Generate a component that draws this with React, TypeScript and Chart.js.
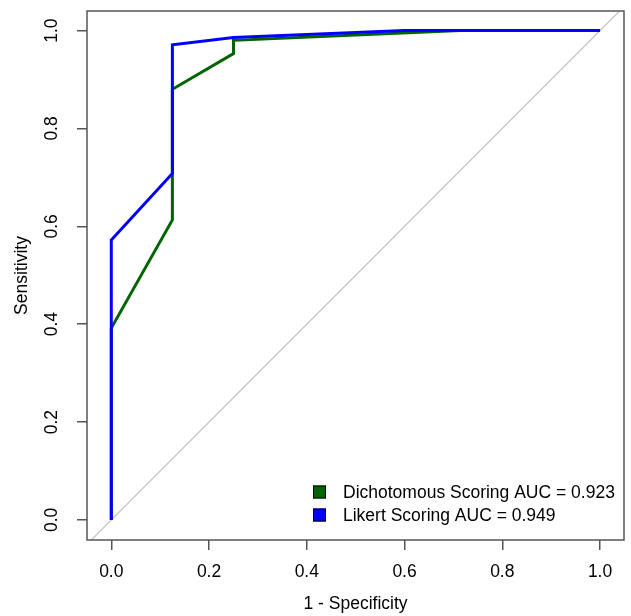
import React, { useEffect, useRef } from 'react';
import { Chart, registerables } from 'chart.js';

Chart.register(...registerables);

// ROC curve points: x = 1 - Specificity, y = Sensitivity
const dichFpr = [0, 0, 0.125, 0.125, 0.25, 0.25, 0.714, 1.0];
const dichTpr = [0, 0.392, 0.613, 0.88, 0.953, 0.98, 1.0, 1.0];
const likertFpr = [0, 0, 0.125, 0.125, 0.25, 0.6, 1.0];
const likertTpr = [0, 0.572, 0.708, 0.971, 0.986, 1.0, 1.0];
const refLine = [-0.1, 1.1];

const tickValues = [0, 0.2, 0.4, 0.6, 0.8, 1.0];
const tickLabels = ['0.0', '0.2', '0.4', '0.6', '0.8', '1.0'];
const seriesLabels = ['Dichotomous Scoring AUC = 0.923', 'Likert Scoring AUC = 0.949'];
const seriesColors = ['#006400', '#0000ff'];
const xTitle = '1 - Specificity';
const yTitle = 'Sensitivity';

const FONT = "'Liberation Sans', Arial, sans-serif";
const FS = 17.5;

const rPlugin = {
  id: 'rStyle',
  afterDraw(chart: any) {
    const { ctx, chartArea: a } = chart;
    ctx.save();
    ctx.strokeStyle = '#555';
    ctx.lineWidth = 1.5;
    ctx.strokeRect(a.left, a.top, a.right - a.left, a.bottom - a.top);
    // legend
    const sqX = a.right - 311;
    const rows = [a.bottom - 48, a.bottom - 25];
    ctx.font = `${FS}px ${FONT}`;
    ctx.textBaseline = 'middle';
    ctx.textAlign = 'left';
    seriesLabels.forEach((lab, i) => {
      const y = rows[i];
      ctx.fillStyle = seriesColors[i];
      ctx.fillRect(sqX, y - 6.5, 13, 13);
      ctx.strokeStyle = '#000';
      ctx.lineWidth = 1;
      ctx.strokeRect(sqX + 0.5, y - 6, 12, 12);
      ctx.fillStyle = '#000';
      ctx.fillText(lab, sqX + 30, y + 1);
    });
    ctx.restore();
  },
};

export default function App() {
  const ref = useRef<HTMLCanvasElement>(null);
  useEffect(() => {
    document.body.style.margin = '0';
    const toPts = (xs: number[], ys: number[]) => xs.map((x, i) => ({ x, y: ys[i] }));
    const chart = new Chart(ref.current as HTMLCanvasElement, {
      type: 'scatter',
      data: {
        datasets: [
          {
            label: seriesLabels[1],
            data: toPts(likertFpr, likertTpr),
            showLine: true,
            borderColor: seriesColors[1],
            backgroundColor: seriesColors[1],
            borderWidth: 3,
            pointRadius: 0,
            tension: 0,
            order: 0,
          },
          {
            label: seriesLabels[0],
            data: toPts(dichFpr, dichTpr),
            showLine: true,
            borderColor: seriesColors[0],
            backgroundColor: seriesColors[0],
            borderWidth: 3,
            pointRadius: 0,
            tension: 0,
            order: 1,
          },
          {
            label: 'reference',
            data: toPts(refLine, refLine),
            showLine: true,
            borderColor: '#c0c0c0',
            borderWidth: 1.2,
            pointRadius: 0,
            order: 2,
          },
        ],
      },
      options: {
        animation: false,
        responsive: true,
        maintainAspectRatio: false,
        events: [],
        layout: { padding: { top: 11, right: 7, left: 0, bottom: 0 } },
        plugins: { legend: { display: false }, tooltip: { enabled: false } },
        scales: {
          x: {
            type: 'linear',
            min: -0.0497,
            max: 1.049,
            afterBuildTicks: (s: any) => {
              s.ticks = tickValues.map((v) => ({ value: v }));
            },
            afterFit: (s: any) => {
              s.height = 76;
              s.paddingLeft = 0;
              s.paddingRight = 0;
              s.paddingTop = 0;
              s.paddingBottom = 0;
            },
            grid: { display: true, drawOnChartArea: false, drawTicks: true, tickLength: 10, color: '#555', lineWidth: 1.5 },
            border: { display: false },
            ticks: {
              autoSkip: false,
              maxRotation: 0,
              minRotation: 0,
              padding: 13.5,
              color: '#000',
              font: { family: FONT, size: FS, lineHeight: 1 },
              callback: (_v: any, i: number) => tickLabels[i],
            },
            title: {
              display: true,
              text: xTitle,
              color: '#000',
              font: { family: FONT, size: FS, lineHeight: 1 },
              padding: { top: 0, bottom: 3.5 },
            },
          },
          y: {
            type: 'linear',
            min: -0.041,
            max: 1.04,
            afterBuildTicks: (s: any) => {
              s.ticks = tickValues.map((v) => ({ value: v }));
            },
            afterFit: (s: any) => {
              s.width = 87;
              s.paddingLeft = 0;
              s.paddingRight = 0;
              s.paddingTop = 0;
              s.paddingBottom = 0;
            },
            grid: { display: true, drawOnChartArea: false, drawTicks: true, tickLength: 10, color: '#555', lineWidth: 1.5 },
            border: { display: false },
            ticks: {
              autoSkip: false,
              minRotation: 90,
              maxRotation: 90,
              crossAlign: 'center',
              padding: 12.2,
              color: '#000',
              font: { family: FONT, size: FS, lineHeight: 1 },
              callback: (_v: any, i: number) => tickLabels[i],
            },
            title: {
              display: true,
              text: yTitle,
              color: '#000',
              font: { family: FONT, size: FS, lineHeight: 1 },
              padding: { top: 13.5, bottom: 0 },
            },
          },
        },
      },
      plugins: [rPlugin],
    });
    return () => chart.destroy();
  }, []);
  return (
    <div style={{ position: 'relative', width: 631, height: 616 }}>
      <canvas ref={ref} />
    </div>
  );
}
